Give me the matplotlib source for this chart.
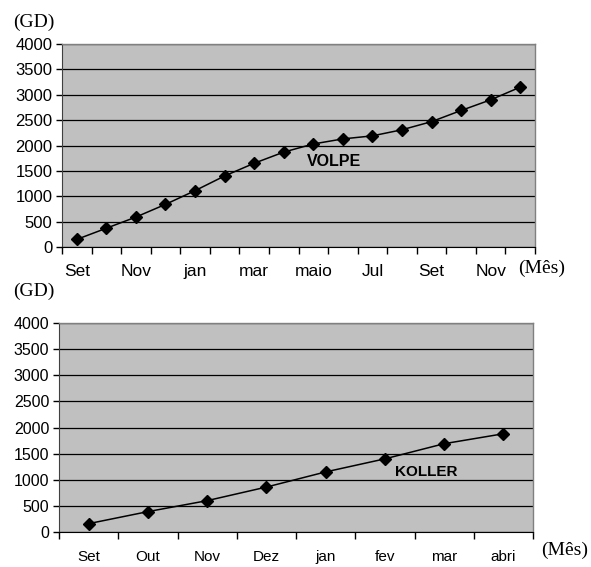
import numpy as np
import matplotlib
matplotlib.use("Agg")
import matplotlib.pyplot as plt

# Monthly accumulated degree-days (GD)
volpe_months = ["Set", "Out", "Nov", "Dez", "jan", "fev", "mar", "abr",
                "maio", "jun", "Jul", "ago", "Set", "Out", "Nov", "Dez"]
volpe_gd = [150, 370, 590, 840, 1110, 1400, 1650, 1870,
            2030, 2130, 2190, 2310, 2470, 2690, 2900, 3150]

koller_months = ["Set", "Out", "Nov", "Dez", "jan", "fev", "mar", "abri"]
koller_gd = [160, 390, 600, 860, 1150, 1400, 1690, 1880]

y_ticks = [0, 500, 1000, 1500, 2000, 2500, 3000, 3500, 4000]

plt.rcParams["font.family"] = ["Liberation Sans", "DejaVu Sans"]

W, H = 591, 567
fig = plt.figure(figsize=(W / 100, H / 100), dpi=100)

SERIF = "Liberation Serif"
BG = "#C0C0C0"


def px_rect(l, t, r, b):
    return [l / W, 1 - b / H, (r - l) / W, (b - t) / H]


def style_axes(ax, months, values, label_step, xsize, ysize, xpad):
    n = len(months)
    ax.set_facecolor(BG)
    x = np.arange(n) + 0.5
    ax.set_xlim(0, n)
    ax.set_ylim(0, 4000)
    ax.set_yticks(y_ticks)
    ax.set_yticklabels([str(v) for v in y_ticks])
    ax.yaxis.grid(True, color="#000000", linewidth=0.9)
    ax.set_axisbelow(True)
    # category boundaries get tick marks, centers get the month names
    ax.set_xticks(np.arange(n + 1))
    ax.set_xticklabels([])
    ax.set_xticks(x, minor=True)
    ax.set_xticklabels([m if i % label_step == 0 else "" for i, m in enumerate(months)],
                       minor=True)
    ax.tick_params(axis="x", which="major", direction="out", length=5, width=1, color="black")
    ax.tick_params(axis="x", which="minor", length=0, pad=xpad, labelsize=xsize)
    ax.tick_params(axis="y", direction="out", length=4, width=1, pad=3, color="black",
                   labelsize=ysize)
    for s in ("top", "right"):
        ax.spines[s].set_color("#808080")
        ax.spines[s].set_linewidth(1)
    ax.spines["left"].set_color("#404040")
    ax.spines["bottom"].set_color("black")
    ax.plot(x, values, color="black", linewidth=1.1, marker="D", markersize=6.5,
            markerfacecolor="black", markeredgecolor="black", zorder=3, clip_on=False)
    return ax


ax1 = fig.add_axes(px_rect(62, 44, 535, 247))
style_axes(ax1, volpe_months, volpe_gd, 2, 12.5, 12, 12)
ax1.text((334 - 62) / (535 - 62) * 16, 4000 * (247 - 161) / (247 - 44), "VOLPE",
         fontweight="bold", fontsize=11.5, ha="center", va="center")

ax2 = fig.add_axes(px_rect(59, 323, 533, 532))
style_axes(ax2, koller_months, koller_gd, 1, 11, 11.5, 13)
ax2.text((426 - 59) / (533 - 59) * 8, 4000 * (532 - 472) / (532 - 323), "KOLLER",
         fontweight="bold", fontsize=11, ha="center", va="center")

# unit labels
fig.text(13 / W, 1 - 22 / H, "(GD)", fontfamily=SERIF, fontsize=14, ha="left", va="center")
fig.text(13 / W, 1 - 291 / H, "(GD)", fontfamily=SERIF, fontsize=14, ha="left", va="center")
fig.text(518 / W, 1 - 268 / H, "(Mês)", fontfamily=SERIF, fontsize=14, ha="left", va="center")
fig.text(541 / W, 1 - 550 / H, "(Mês)", fontfamily=SERIF, fontsize=14, ha="left", va="center")

fig.savefig("out.png", dpi=100, facecolor="white")
